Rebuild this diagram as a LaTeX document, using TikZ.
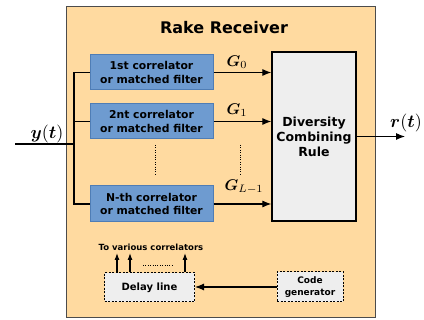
\RequirePackage{fix-cm}
\documentclass[tikz,border=0pt]{standalone}
\usepackage[no-math]{fontspec}
\setmainfont{DejaVu Sans}
\usepackage{bm}
\usetikzlibrary{arrows.meta}
\definecolor{bgorange}{HTML}{FFDAA0}
\definecolor{corrfill}{HTML}{6E9BD0}
\definecolor{corrline}{HTML}{4F7DB5}
\definecolor{grayfill}{HTML}{EEEEEE}
\tikzset{
  corrbox/.style={draw=corrline, line width=1pt, fill=corrfill, minimum width=123pt, minimum height=35pt, align=center, inner sep=0pt, font=\fontsize{10.8}{13.5}\selectfont\bfseries},
  combbox/.style={draw=black, line width=1.2pt, fill=grayfill, minimum width=84pt, minimum height=169pt, align=center, inner sep=0pt, font=\fontsize{12.5}{15}\selectfont\bfseries},
  dotbox/.style={draw=black, line width=1pt, dash pattern=on 2pt off 1.5pt, fill=grayfill, align=center, inner sep=0pt},
  sig/.style={line width=1.1pt},
  arr/.style={sig, -{Latex[length=9pt,width=7pt]}},
  smallarr/.style={sig, -{Latex[length=7pt,width=5pt]}},
  dots/.style={line width=0.8pt, dash pattern=on 0.8pt off 1.6pt},
  gl/.style={inner sep=0pt},
}
\newcommand{\bigmath}[1]{\scalebox{1.8}{$#1$}}
\newcommand{\gmath}[1]{\scalebox{1.55}{$#1$}}
\begin{document}
\begin{tikzpicture}[x=1pt,y=-1pt]
\useasboundingbox (0,0) rectangle (424,320);
\fill[white] (0,0) rectangle (424,320);
\draw[fill=bgorange, draw=black!70, line width=1pt] (66,7) rectangle (375,318);
\node[font=\fontsize{16}{18}\selectfont\bfseries] (title) at (224,28) {Rake Receiver};
\node[corrbox] (c1) at (151.5,72.5) {1st correlator\\or matched filter};
\node[corrbox] (c2) at (151.5,121.5) {2nt correlator\\or matched filter};
\node[corrbox, minimum height=36pt] (cN) at (151.5,204) {N-th correlator\\or matched filter};
\node[combbox] (comb) at (314,136.5) {Diversity\\Combining\\Rule};
\node[dotbox, minimum width=90pt, minimum height=29pt, font=\fontsize{10}{12}\selectfont\bfseries] (delay) at (149.5,287.5) {Delay line};
\node[dotbox, minimum width=66pt, minimum height=30pt, font=\fontsize{9}{11.5}\selectfont\bfseries] (code) at (310,287) {Code\\generator};
% input bus
\coordinate (yin) at (15,144);
\coordinate (bus) at (74,0);
\draw[sig] (yin) -- (yin -| bus);
\draw[sig] (c1.west) -- (c1.west -| bus) |- (cN.west);
\draw[sig] (c2.west) -- (c2.west -| bus);
\node[inner sep=0pt] (ylab) at (47,134) {\bigmath{\bm{y}(\bm{t})}};
% to combiner
\draw[arr] (c1.east) -- (c1.east -| comb.west);
\draw[arr] (c2.east) -- (c2.east -| comb.west);
\draw[arr] (cN.east) -- (cN.east -| comb.west);
\node[gl] (g0) at (237,62) {\gmath{\bm{G}_0}};
\node[gl] (g1) at (237,110) {\gmath{\bm{G}_1}};
\node[gl] (gl1) at (244,187) {\gmath{\bm{G}_{L-1}}};
% vertical dots
\coordinate (d1t) at (155,145); \coordinate (d1b) at (155,175);
\coordinate (d2t) at (240,145); \coordinate (d2b) at (240,175);
\draw[dots] (d1t) -- (d1b);
\draw[dots] (d2t) -- (d2b);
% output
\coordinate (rout) at (405,136.5);
\draw[arr] (comb.east) -- (rout);
\node[inner sep=0pt] (rlab) at (406,123) {\bigmath{\bm{r}(\bm{t})}};
% delay line
\draw[arr] (code.west) -- (code.west -| delay.east);
\coordinate (a1) at (117,253); \coordinate (a2) at (130,253); \coordinate (a3) at (185,253);
\draw[smallarr] (delay.north -| a1) -- (a1);
\draw[smallarr] (delay.north -| a2) -- (a2);
\draw[smallarr] (delay.north -| a3) -- (a3);
\coordinate (h1) at (143,265); \coordinate (h2) at (173,265);
\draw[dots] (h1) -- (h2);
\node[font=\fontsize{8.5}{10}\selectfont\bfseries, inner sep=0pt] (tolab) at (151,247) {To various correlators};
\end{tikzpicture}
\end{document}
